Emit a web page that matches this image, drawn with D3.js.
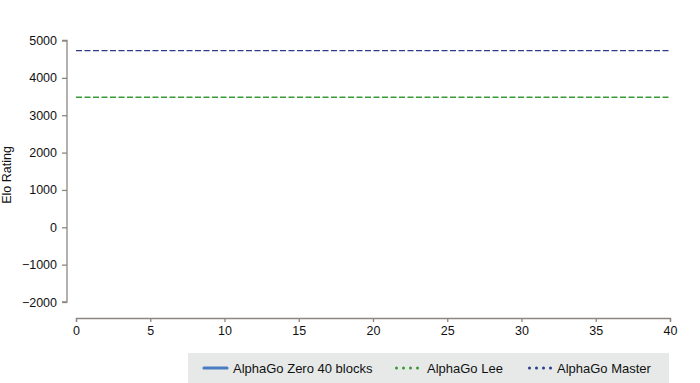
<!DOCTYPE html>
<html>
<head>
<meta charset="utf-8">
<script src="https://cdn.jsdelivr.net/npm/d3@7"></script>
<style>
  body { margin: 0; background: #fff; }
  svg { display: block; font-family: "Liberation Sans", Arial, sans-serif; }
  .axis path, .axis line { stroke: #8c8782; stroke-width: 1.3; }
  .axis text { fill: #111; font-size: 12.5px; }
</style>
</head>
<body>
<div id="chart"></div>
<script>
const width = 700;
const height = 383;

// series data
const zeroDays = [];   // AlphaGo Zero 40 blocks: no points drawn yet
const zeroElo = [];
const leeElo = 3480;
const masterElo = 4730;
const dayDomain = [0, 40];
const eloDomain = [-2000, 5000];
const xTicks = [0, 5, 10, 15, 20, 25, 30, 35, 40];
const yTicks = [-2000, -1000, 0, 1000, 2000, 3000, 4000, 5000];
const legendNames = ["AlphaGo Zero 40 blocks", "AlphaGo Lee", "AlphaGo Master"];

const colors = {zero: "#4a7cc0", lee: "#3a9a36", master: "#2c3d8f"};

var svg = d3.select("#chart").append("svg")
  .attr("width", width)
  .attr("height", height);

var x = d3.scaleLinear().domain(dayDomain).range([76, 670]);
var y = d3.scaleLinear().domain(eloDomain).range([302, 40.5]);

//axes
svg.append("g")
  .attr("class", "axis")
  .attr("transform", "translate(67,0)")
  .call(d3.axisLeft(y).tickValues(yTicks).tickSize(5).tickPadding(5)
    .tickFormat(d => d < 0 ? "\u2212" + Math.abs(d) : d))
  .call(g => g.select(".domain").attr("d", "M-5,40.5H0V302H-5"));

svg.append("g")
  .attr("class", "axis")
  .attr("transform", "translate(0,318)")
  .call(d3.axisBottom(x).tickValues(xTicks).tickSize(4).tickPadding(4));

svg.append("text")
  .attr("transform", "translate(11,175) rotate(-90)")
  .attr("text-anchor", "middle")
  .attr("font-size", "12.5px")
  .attr("fill", "#111")
  .text("Elo Rating");

// reference lines
var refs = [
  {value: masterElo, color: colors.master},
  {value: leeElo, color: colors.lee}
];
svg.selectAll(".ref").data(refs).enter().append("line")
  .attr("class", "ref")
  .attr("x1", x(dayDomain[0]))
  .attr("x2", x(dayDomain[1]))
  .attr("y1", d => y(d.value))
  .attr("y2", d => y(d.value))
  .attr("stroke", d => d.color)
  .attr("stroke-width", 1.4)
  .attr("stroke-dasharray", "6,2.5");

// zero series line (empty for now)
var line = d3.line().x(d => x(d[0])).y(d => y(d[1]));
svg.append("path")
  .datum(d3.zip(zeroDays, zeroElo))
  .attr("fill", "none")
  .attr("stroke", colors.zero)
  .attr("stroke-width", 2.5)
  .attr("d", line);

// legend
var legend = svg.append("g");
legend.append("rect")
  .attr("x", 188).attr("y", 353)
  .attr("width", 481).attr("height", 30)
  .attr("fill", "#e6e9e8");

var items = [
  {name: legendNames[0], color: colors.zero, sx: 203, tx: 233, kind: "solid"},
  {name: legendNames[1], color: colors.lee, sx: 395, tx: 427, kind: "dot"},
  {name: legendNames[2], color: colors.master, sx: 528, tx: 557, kind: "dot"}
];
var item = legend.selectAll(".item").data(items).enter().append("g");
item.append("line")
  .attr("x1", d => d.kind == "solid" ? d.sx + 1 : d.sx + 1.5)
  .attr("x2", d => d.kind == "solid" ? d.sx + 24 : d.sx + 24)
  .attr("y1", 368).attr("y2", 368)
  .attr("stroke", d => d.color)
  .attr("stroke-linecap", "round")
  .attr("stroke-width", d => d.kind == "solid" ? 3.2 : 3)
  .attr("stroke-dasharray", d => d.kind == "solid" ? null : "0,7");
item.append("text")
  .attr("x", d => d.tx)
  .attr("y", 372.5)
  .attr("font-size", "13px")
  .attr("fill", "#111")
  .text(d => d.name);
</script>
</body>
</html>
